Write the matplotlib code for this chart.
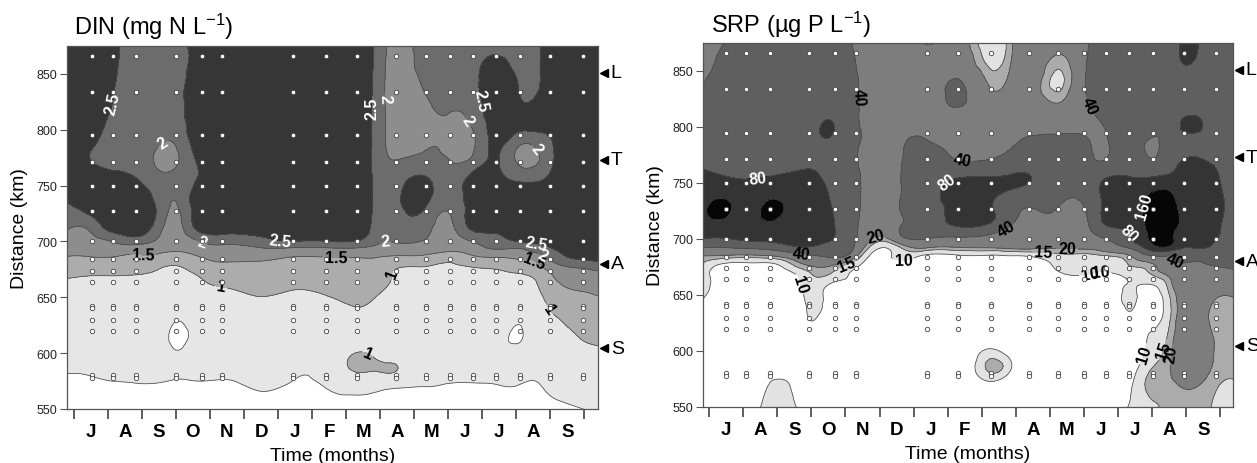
import numpy as np
import matplotlib
matplotlib.use("Agg")
import matplotlib.pyplot as plt
import matplotlib.tri as mtri

plt.rcParams['font.family'] = ['Liberation Sans', 'DejaVu Sans']
plt.rcParams['mathtext.fontset'] = 'custom'
plt.rcParams['mathtext.rm'] = 'Liberation Sans'
plt.rcParams['mathtext.it'] = 'Liberation Sans:italic'
plt.rcParams['mathtext.bf'] = 'Liberation Sans:bold'
plt.rcParams['mathtext.default'] = 'regular'

# ---------------- data ----------------
month_labels = ['J', 'A', 'S', 'O', 'N', 'D', 'J', 'F', 'M', 'A', 'M', 'J', 'J', 'A', 'S']
site_labels = ['L', 'T', 'A', 'S']
site_km = [851, 773, 680, 604.5]

# sampling stations (dots)
station_km = [866, 834, 795, 771, 750, 727, 700, 684, 674, 664, 640, 629.5, 620, 578]
din_station_months = [0.53, 1.15, 1.82, 3.0, 3.76, 4.35, 6.44, 7.41, 8.32, 9.47,
                      10.35, 11.06, 11.74, 12.41, 13.12, 14.0, 14.97]
srp_station_months = [0.5, 1.08, 1.79, 2.93, 3.69, 4.31, 6.39, 7.3, 8.26, 9.38,
                      10.25, 10.99, 11.63, 12.31, 13.01, 13.92, 14.86]

# gridded field nodes (distance rows, bottom -> top)
distance_nodes = [548, 570, 585, 600, 615, 630, 645, 658, 668, 677, 685, 693,
                  701, 712, 725, 740, 755, 770, 785, 800, 820, 840, 860, 877]

# DIN (mg N/L): one profile per time node, values at distance_nodes
din_time_nodes = [-0.25, 0.5, 1.1, 1.8, 2.45, 3.0, 3.7, 4.35, 5.4, 6.4, 7.35, 8.3,
                  8.9, 9.45, 10.3, 11.0, 11.7, 12.4, 13.1, 13.5, 14.0, 14.9, 15.45]
din_values = [
    [0.35, 0.45, 0.52, 0.60, 0.65, 0.72, 0.80, 0.90, 1.03, 1.25, 1.47, 1.65, 1.83, 2.07, 2.30, 2.60, 2.85, 3.00, 3.00, 3.00, 3.00, 3.00, 3.00, 3.00],
    [0.35, 0.45, 0.53, 0.60, 0.65, 0.70, 0.78, 0.88, 0.97, 1.25, 1.47, 1.65, 1.85, 2.10, 2.57, 2.80, 2.90, 2.55, 2.55, 2.75, 2.90, 3.00, 3.00, 3.00],
    [0.33, 0.47, 0.55, 0.60, 0.65, 0.70, 0.78, 0.88, 0.97, 1.25, 1.47, 1.75, 2.05, 2.70, 2.90, 2.90, 2.75, 2.35, 2.30, 2.35, 2.50, 2.60, 2.65, 2.65],
    [0.30, 0.48, 0.56, 0.62, 0.67, 0.72, 0.80, 0.88, 0.96, 1.20, 1.42, 1.70, 2.30, 2.80, 2.90, 2.80, 2.55, 2.30, 2.20, 2.25, 2.30, 2.30, 2.35, 2.35],
    [0.30, 0.48, 0.56, 0.63, 0.68, 0.73, 0.80, 0.88, 0.95, 1.05, 1.35, 1.65, 1.95, 2.25, 2.45, 2.35, 2.20, 1.94, 2.02, 2.20, 2.30, 2.30, 2.30, 2.30],
    [0.35, 0.47, 0.53, 0.52, 0.43, 0.52, 0.70, 0.82, 0.90, 0.97, 1.25, 1.55, 1.70, 1.80, 1.90, 2.05, 2.15, 1.95, 2.00, 2.20, 2.30, 2.25, 2.10, 2.20],
    [0.35, 0.47, 0.55, 0.60, 0.65, 0.70, 0.78, 0.88, 1.00, 1.20, 1.45, 1.75, 2.05, 2.70, 2.90, 2.90, 2.60, 2.60, 2.80, 2.90, 2.90, 3.00, 3.00, 3.00],
    [0.35, 0.46, 0.55, 0.60, 0.65, 0.70, 0.80, 0.97, 1.20, 1.38, 1.60, 1.85, 2.20, 2.80, 3.00, 3.00, 3.00, 3.00, 3.00, 3.00, 3.00, 3.00, 3.00, 3.00],
    [0.38, 0.52, 0.58, 0.62, 0.68, 0.75, 0.90, 1.12, 1.25, 1.38, 1.58, 1.92, 2.30, 2.85, 3.00, 3.00, 3.00, 3.00, 3.00, 3.00, 3.00, 3.00, 3.00, 3.00],
    [0.35, 0.47, 0.56, 0.62, 0.68, 0.75, 0.85, 1.03, 1.20, 1.33, 1.47, 1.88, 2.55, 2.90, 3.00, 3.00, 3.00, 3.00, 3.00, 3.00, 3.00, 3.00, 3.00, 3.00],
    [0.35, 0.50, 0.62, 0.64, 0.68, 0.76, 0.90, 1.08, 1.22, 1.33, 1.47, 1.88, 2.55, 2.90, 3.00, 3.00, 3.00, 3.00, 3.00, 3.00, 3.00, 3.00, 3.00, 3.00],
    [0.42, 0.66, 1.04, 1.01, 0.82, 0.90, 1.03, 1.15, 1.25, 1.35, 1.48, 1.90, 2.55, 2.90, 3.00, 3.00, 3.00, 3.00, 3.00, 3.00, 3.00, 3.00, 3.00, 3.00],
    [0.40, 0.62, 1.02, 0.92, 0.80, 0.85, 0.95, 1.10, 1.25, 1.35, 1.48, 1.85, 2.10, 2.30, 2.35, 2.35, 2.35, 2.30, 2.30, 2.30, 2.30, 2.30, 2.35, 2.40],
    [0.35, 0.55, 1.02, 0.80, 0.72, 0.76, 0.82, 0.88, 0.94, 1.05, 1.40, 1.75, 2.05, 2.20, 2.30, 2.35, 2.25, 2.05, 1.85, 1.80, 1.80, 1.80, 1.80, 1.80],
    [0.35, 0.50, 0.62, 0.63, 0.65, 0.72, 0.80, 0.87, 0.93, 0.99, 1.35, 1.70, 1.98, 2.20, 2.40, 2.70, 2.60, 2.20, 1.95, 1.85, 1.90, 2.05, 2.20, 2.25],
    [0.38, 0.48, 0.56, 0.60, 0.65, 0.72, 0.78, 0.85, 0.90, 0.95, 1.15, 1.60, 1.75, 1.85, 1.98, 2.15, 2.20, 2.05, 1.88, 1.90, 2.05, 2.20, 2.25, 2.25],
    [0.38, 0.48, 0.56, 0.60, 0.65, 0.72, 0.78, 0.85, 0.91, 1.00, 1.35, 1.75, 2.05, 2.60, 2.75, 2.80, 2.70, 2.20, 1.90, 1.98, 2.20, 2.35, 2.35, 2.35],
    [0.38, 0.49, 0.56, 0.60, 0.65, 0.72, 0.78, 0.85, 0.92, 1.05, 1.45, 2.00, 2.30, 2.70, 2.90, 2.90, 2.70, 2.55, 2.60, 2.70, 2.80, 2.80, 2.60, 2.30],
    [0.38, 0.49, 0.56, 0.57, 0.47, 0.55, 0.72, 0.82, 0.92, 1.20, 1.55, 1.95, 2.60, 2.85, 2.90, 2.75, 2.45, 1.93, 1.97, 2.55, 2.60, 2.45, 2.30, 2.30],
    [0.35, 0.47, 0.56, 0.62, 0.66, 0.72, 0.80, 0.90, 1.02, 1.33, 1.60, 2.20, 2.60, 2.80, 2.85, 2.70, 2.45, 1.90, 1.98, 2.55, 2.60, 2.35, 2.30, 2.30],
    [0.40, 0.55, 0.62, 0.70, 0.80, 0.92, 1.07, 1.25, 1.42, 1.70, 2.10, 2.45, 2.65, 2.80, 2.85, 2.75, 2.60, 2.40, 2.42, 2.60, 2.75, 2.80, 2.85, 2.85],
    [0.48, 0.65, 0.78, 0.90, 1.02, 1.17, 1.35, 1.55, 1.75, 2.05, 2.60, 2.80, 2.90, 3.00, 3.00, 3.00, 3.00, 3.00, 3.00, 3.00, 3.00, 3.00, 3.00, 3.00],
    [0.52, 0.72, 0.85, 0.95, 1.07, 1.22, 1.42, 1.60, 1.80, 2.20, 2.70, 2.85, 2.95, 3.00, 3.00, 3.00, 3.00, 3.00, 3.00, 3.00, 3.00, 3.00, 3.00, 3.00],
]
din_levels = [0.5, 1.0, 1.5, 2.0, 2.5]
din_colors = ['#ffffff', '#e6e6e6', '#acacac', '#8d8d8d', '#6c6c6c', '#363636']

# SRP (ug P/L)
srp_time_nodes = [-0.25, 0.5, 1.1, 1.8, 2.45, 2.95, 3.5, 4.0, 4.5, 5.2, 5.8, 6.4, 7.3,
                  8.25, 8.9, 9.4, 10.25, 11.0, 11.65, 12.3, 13.0, 13.5, 13.9, 14.4, 14.9, 15.45]
srp_values = [
    [5, 5, 5, 6, 7, 8, 10.2, 17, 13, 15.3, 20, 44, 82, 110, 120, 115, 95, 70, 60, 55, 50, 39, 33, 32],
    [4, 4, 4, 4, 4, 4, 5, 6, 7, 9, 19, 43, 82, 120, 190, 130, 82, 62, 55, 55, 52, 48, 45, 40],
    [7, 5, 5, 5, 5, 5, 5, 6, 7, 9, 18, 48, 95, 115, 110, 100, 78, 62, 55, 52, 50, 50, 50, 50],
    [12.5, 10.5, 7, 5, 5, 5, 5, 6, 7, 9, 20, 55, 100, 140, 200, 130, 82, 62, 55, 52, 50, 50, 50, 50],
    [11.5, 9, 6, 5, 5, 5, 6, 7.5, 9, 15, 28, 75, 105, 120, 125, 120, 90, 65, 55, 52, 50, 50, 50, 50],
    [7, 5, 5, 6, 8, 10.3, 11.5, 12.5, 14.2, 21, 37, 80, 100, 115, 120, 115, 92, 70, 58, 55, 50, 50, 50, 50],
    [5, 5, 5, 5, 6, 7, 8.5, 9.5, 15, 22, 45, 70, 85, 90, 88, 80, 70, 62, 70, 90, 60, 52, 50, 50],
    [5, 5, 5, 5, 5, 6, 7, 8.5, 10.5, 15.5, 42, 58, 62, 62, 60, 58, 55, 50, 50, 52, 48, 47, 45, 43],
    [5, 5, 5, 5, 5, 5, 6, 7, 8, 9.5, 14, 23, 30, 34, 37, 38, 38, 36, 38, 39, 39, 38, 36, 35],
    [5, 5, 5, 5, 5, 5, 5, 6, 7, 8, 9, 10.5, 20, 27, 30, 30, 30, 30, 30, 30, 30, 30, 30, 30],
    [5, 5, 5, 5, 5, 5, 5, 6, 7, 8.5, 12, 19, 42, 46, 46, 46, 46, 44, 41, 35, 30, 30, 30, 28],
    [5, 5, 5, 5, 5, 5, 5, 5, 6, 7.5, 9, 22, 42, 55, 62, 65, 60, 52, 42, 35, 30, 28, 25, 18],
    [5, 5, 5, 5, 5, 5, 5, 5, 6, 7.5, 9.5, 21, 38, 85, 100, 100, 78, 41, 35, 32, 42, 42, 30, 25],
    [5, 8.5, 17, 11, 7, 5, 5, 5, 6, 7.5, 9.5, 22, 34, 70, 88, 90, 82, 42, 32, 28, 24, 18.5, 13, 11],
    [5, 6, 9.5, 7, 5, 5, 5, 5, 6, 7.5, 10, 24, 30, 38, 48, 70, 85, 55, 38, 32, 28, 25, 21, 20],
    [5, 5, 5, 5, 5, 5, 5, 5, 6, 7.5, 10.5, 24, 30, 33, 38, 60, 82, 60, 45, 35, 30, 30, 30, 28],
    [5, 5, 5, 5, 5, 5, 5, 6, 9, 11, 13.5, 22, 28, 32, 38, 48, 55, 55, 45, 36, 21, 13.5, 18, 24],
    [5, 5, 5, 5, 5, 5, 5, 6, 10, 12, 13.5, 23, 30, 33, 38, 48, 55, 50, 44, 37, 36, 38, 36, 35],
    [5, 5, 5, 5, 5, 5, 6, 7, 9, 11.5, 15, 28, 42, 80, 95, 95, 78, 42, 38, 41, 48, 52, 50, 48],
    [10.5, 8.5, 7, 6, 7, 9, 11, 10.3, 11, 15, 19, 45, 72, 95, 110, 115, 82, 65, 58, 55, 55, 58, 55, 52],
    [13, 17, 15, 12, 10.5, 8, 7.5, 9.5, 15, 19, 41, 130, 190, 220, 220, 170, 82, 42, 36, 50, 55, 55, 55, 55],
    [17, 18.5, 19.5, 18, 16, 14, 14, 17, 22, 32, 42, 150, 200, 230, 230, 180, 90, 60, 55, 55, 55, 55, 55, 55],
    [15.5, 21, 28, 30, 28, 25, 24, 26, 32, 38, 55, 85, 110, 140, 140, 120, 95, 82, 60, 85, 60, 55, 85, 95],
    [17, 20, 26, 28, 26, 24, 25, 28, 32, 38, 50, 90, 120, 130, 130, 120, 110, 85, 65, 85, 60, 55, 70, 75],
    [14, 15.5, 18, 19, 19, 18, 19.5, 24, 32, 42, 52, 65, 82, 90, 95, 92, 85, 70, 60, 58, 55, 55, 55, 55],
    [13, 14.5, 16, 17, 17.5, 17, 19.5, 25, 35, 44, 50, 55, 60, 65, 68, 68, 65, 60, 58, 56, 55, 55, 55, 55],
]
srp_levels = [10, 15, 20, 40, 80, 160]
srp_colors = ['#ffffff', '#e2e2e2', '#ababab', '#7d7d7d', '#5f5f5f', '#343434', '#060606']

# contour label anchor points (month, km)
din_label_spots = [
    (2.5, 'white', [(1.94, 818), (8.65, 820), (12.0, 827), (6.06, 700), (13.6, 702)]),
    (2.0, 'white', [(2.73, 782), (9.3, 828), (11.5, 807), (13.56, 782), (3.7, 693), (9.15, 702), (13.85, 691)]),
    (1.5, 'black', [(2.03, 685), (7.7, 678), (13.5, 682)]),
    (1.0, 'black', [(4.35, 663), (9.24, 672), (14.05, 641), (8.6, 597)]),
]
srp_label_spots = [
    (160, 'white', [(13.0, 729)]),
    (80, 'white', [(1.4, 758), (7.1, 745), (12.28, 704)]),
    (40, 'black', [(4.5, 827), (2.72, 688), (7.45, 774), (11.08, 818), (8.67, 712), (13.65, 680)]),
    (20, 'black', [(4.92, 700), (10.5, 691), (13.65, 597)]),
    (15, 'black', [(4.04, 676), (9.8, 688), (13.2, 602)]),
    (10, 'black', [(2.58, 660), (5.7, 682), (11.4, 687), (11.3, 671), (12.63, 599)]),
]


# ---------------- helpers ----------------
def smooth_field(times, dists, cols, xscale=30.0, subdiv=3):
    Z = np.array(cols, float).T
    T, D = np.meshgrid(times, dists)
    nr, nc = Z.shape
    idx = np.arange(nr * nc).reshape(nr, nc)
    a = idx[:-1, :-1].ravel(); b = idx[:-1, 1:].ravel()
    c = idx[1:, 1:].ravel(); d = idx[1:, :-1].ravel()
    tris = np.concatenate([np.stack([a, b, c], 1), np.stack([a, c, d], 1)])
    tri_s = mtri.Triangulation(T.ravel() * xscale, D.ravel(), tris)
    interp = mtri.CubicTriInterpolator(tri_s, Z.ravel(), kind='min_E')
    ref = mtri.UniformTriRefiner(tri_s)
    tri_r, z_r = ref.refine_field(Z.ravel(), triinterpolator=interp, subdiv=subdiv)
    return mtri.Triangulation(tri_r.x / xscale, tri_r.y, tri_r.triangles), z_r


def style_axes(ax, xlim, station_months):
    ax.set_xlim(*xlim)
    ax.set_ylim(550, 875)
    ax.set_xticks(np.arange(16))
    ax.set_xticklabels([])
    ax.set_xticks(np.arange(15) + 0.5, minor=True)
    ax.set_xticklabels(month_labels, minor=True, fontsize=13.5, fontweight='bold')
    ax.tick_params(axis='x', which='major', direction='out', length=7, width=1.1, color='#333333')
    ax.tick_params(axis='x', which='minor', length=0, pad=10)
    ax.set_yticks(np.arange(550, 851, 50))
    ax.tick_params(axis='y', direction='out', length=5, width=0.8, color='#555555',
                   labelsize=9, labelcolor='#222222', pad=2)
    for sp in ax.spines.values():
        sp.set_color('#555555'); sp.set_linewidth(0.9)
    ax.set_xlabel('Time (months)', fontsize=14, labelpad=5)
    ax.set_ylabel('Distance (km)', fontsize=14, labelpad=6)
    T, D = np.meshgrid(station_months, station_km)
    ax.plot(T.ravel(), D.ravel(), 'o', ms=3.2, mfc='white', mec='#444444', mew=0.6,
            ls='none', zorder=6, clip_on=False)
    T2, D2 = np.meshgrid(station_months, [580.5, 642])
    ax.plot(T2.ravel(), D2.ravel(), 'o', ms=3.2, mfc='white', mec='#444444', mew=0.6,
            ls='none', zorder=5)
    tr = ax.get_yaxis_transform()
    for lab, km in zip(site_labels, site_km):
        ax.plot([1.012], [km], marker='<', ms=5.5, color='black', transform=tr, clip_on=False)
        ax.text(1.024, km, lab, transform=tr, ha='left', va='center', fontsize=14)


def draw_lines_and_labels(ax, tri, z, levels, spots, key, fmt):
    spot_map = {key(v): (col, pts) for v, col, pts in spots}
    for lev in levels:
        cs = ax.tricontour(tri, z, levels=[lev], colors='#4a4a4a', linewidths=0.55)
        if lev in spot_map:
            col, pts = spot_map[lev]
            texts = cs.clabel([lev], manual=pts, fmt=fmt, colors=col,
                              fontsize=11.5, inline=True, inline_spacing=2)
            for t in texts:
                t.set_fontweight('bold')


# ---------------- figure ----------------
fig = plt.figure(figsize=(12.57, 4.64), dpi=100)
ax1 = fig.add_axes([67 / 1257, 1 - 410 / 464, 531 / 1257, 363 / 464])
ax2 = fig.add_axes([703 / 1257, 1 - 408 / 464, 530 / 1257, 364 / 464])

# DIN panel
tri1, z1 = smooth_field(din_time_nodes, distance_nodes, din_values)
ax1.tricontourf(tri1, z1, levels=[-10] + din_levels + [10], colors=din_colors)
draw_lines_and_labels(ax1, tri1, z1, din_levels, din_label_spots, lambda v: v, lambda v: f'{v:g}')
style_axes(ax1, (-0.2, 15.4), din_station_months)
ax1.text(7 / 531, 1 + 12 / 363, r'DIN (mg N L$^{-1}$)', transform=ax1.transAxes,
         ha='left', va='baseline', fontsize=17)

# SRP panel (interpolated in log space)
srp_log = np.log10(np.array(srp_values, float))
tri2, z2 = smooth_field(srp_time_nodes, distance_nodes, srp_log)
srp_log_levels = [float(v) for v in np.log10(srp_levels)]
ax2.tricontourf(tri2, z2, levels=[-1] + srp_log_levels + [5], colors=srp_colors)
draw_lines_and_labels(ax2, tri2, z2, srp_log_levels, srp_label_spots,
                      lambda v: srp_log_levels[srp_levels.index(v)],
                      lambda v: f'{10 ** v:.0f}')
style_axes(ax2, (-0.18, 15.37), srp_station_months)
ax2.text(8 / 530, 1 + 11 / 364, r'SRP (µg P L$^{-1}$)', transform=ax2.transAxes,
         ha='left', va='baseline', fontsize=17)

fig.savefig('out.png', dpi=100)
